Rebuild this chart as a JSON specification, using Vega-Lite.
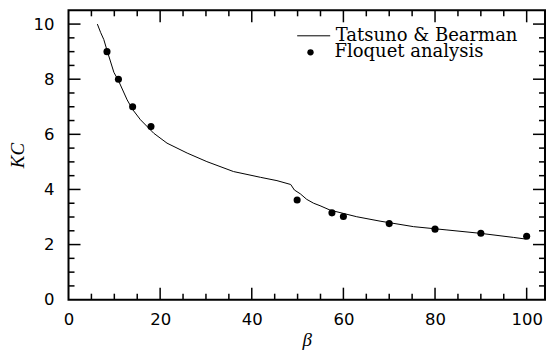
{
  "$schema": "https://vega.github.io/schema/vega-lite/v6.json",
  "width": 476.5,
  "height": 289.4,
  "autosize": {"type": "none"},
  "padding": {"left": 68.5, "top": 10.3, "right": 1.5, "bottom": 50.7},
  "background": "white",
  "config": {
    "view": {"stroke": "black", "strokeWidth": 2},
    "axis": {
      "domain": false, "ticks": false, "tickSize": 0,
      "grid": false, "labelFont": "DejaVu Sans", "labelFontSize": 16.5, "labelColor": "black",
      "labelFlush": false, "labelOverlap": false,
      "titleFont": "Liberation Serif", "titleFontStyle": "italic", "titleFontWeight": "normal",
      "titleFontSize": 19, "titleColor": "black"
    },
    "legend": {"labelFont": "DejaVu Serif", "labelFontSize": 18, "labelColor": "black", "padding": 0, "labelLimit": 400}
  },
  "datasets": {
    "curve": [
      {"beta": 6.3, "kc": 10.0, "series": "Tatsuno & Bearman"},
      {"beta": 7.0, "kc": 9.7, "series": "Tatsuno & Bearman"},
      {"beta": 7.7, "kc": 9.44, "series": "Tatsuno & Bearman"},
      {"beta": 8.4, "kc": 9.05, "series": "Tatsuno & Bearman"},
      {"beta": 9.9, "kc": 8.25, "series": "Tatsuno & Bearman"},
      {"beta": 10.9, "kc": 7.95, "series": "Tatsuno & Bearman"},
      {"beta": 12.8, "kc": 7.25, "series": "Tatsuno & Bearman"},
      {"beta": 14.0, "kc": 6.9, "series": "Tatsuno & Bearman"},
      {"beta": 15.7, "kc": 6.53, "series": "Tatsuno & Bearman"},
      {"beta": 18.6, "kc": 6.04, "series": "Tatsuno & Bearman"},
      {"beta": 21.5, "kc": 5.68, "series": "Tatsuno & Bearman"},
      {"beta": 25.9, "kc": 5.32, "series": "Tatsuno & Bearman"},
      {"beta": 30.2, "kc": 5.01, "series": "Tatsuno & Bearman"},
      {"beta": 36.0, "kc": 4.65, "series": "Tatsuno & Bearman"},
      {"beta": 41.9, "kc": 4.44, "series": "Tatsuno & Bearman"},
      {"beta": 45.5, "kc": 4.32, "series": "Tatsuno & Bearman"},
      {"beta": 48.5, "kc": 4.18, "series": "Tatsuno & Bearman"},
      {"beta": 49.3, "kc": 3.98, "series": "Tatsuno & Bearman"},
      {"beta": 50.6, "kc": 3.84, "series": "Tatsuno & Bearman"},
      {"beta": 52.0, "kc": 3.64, "series": "Tatsuno & Bearman"},
      {"beta": 53.5, "kc": 3.5, "series": "Tatsuno & Bearman"},
      {"beta": 54.9, "kc": 3.41, "series": "Tatsuno & Bearman"},
      {"beta": 57.1, "kc": 3.25, "series": "Tatsuno & Bearman"},
      {"beta": 62.9, "kc": 3.01, "series": "Tatsuno & Bearman"},
      {"beta": 68.0, "kc": 2.85, "series": "Tatsuno & Bearman"},
      {"beta": 75.3, "kc": 2.65, "series": "Tatsuno & Bearman"},
      {"beta": 82.6, "kc": 2.53, "series": "Tatsuno & Bearman"},
      {"beta": 89.8, "kc": 2.41, "series": "Tatsuno & Bearman"},
      {"beta": 97.1, "kc": 2.26, "series": "Tatsuno & Bearman"},
      {"beta": 99.8, "kc": 2.2, "series": "Tatsuno & Bearman"}
    ],
    "floquet": [
      {"beta": 8.4, "kc": 9.0, "series": "Floquet analysis"},
      {"beta": 10.9, "kc": 8.0, "series": "Floquet analysis"},
      {"beta": 14.0, "kc": 7.0, "series": "Floquet analysis"},
      {"beta": 18.0, "kc": 6.28, "series": "Floquet analysis"},
      {"beta": 49.9, "kc": 3.62, "series": "Floquet analysis"},
      {"beta": 57.5, "kc": 3.15, "series": "Floquet analysis"},
      {"beta": 60.0, "kc": 3.02, "series": "Floquet analysis"},
      {"beta": 70.0, "kc": 2.76, "series": "Floquet analysis"},
      {"beta": 80.0, "kc": 2.56, "series": "Floquet analysis"},
      {"beta": 90.0, "kc": 2.41, "series": "Floquet analysis"},
      {"beta": 100.0, "kc": 2.3, "series": "Floquet analysis"}
    ],
    "xticks": [
      {"v": 5, "kind": "minor"}, {"v": 10, "kind": "minor"}, {"v": 15, "kind": "minor"}, {"v": 20, "kind": "major"},
      {"v": 25, "kind": "minor"}, {"v": 30, "kind": "minor"}, {"v": 35, "kind": "minor"}, {"v": 40, "kind": "major"},
      {"v": 45, "kind": "minor"}, {"v": 50, "kind": "minor"}, {"v": 55, "kind": "minor"}, {"v": 60, "kind": "major"},
      {"v": 65, "kind": "minor"}, {"v": 70, "kind": "minor"}, {"v": 75, "kind": "minor"}, {"v": 80, "kind": "major"},
      {"v": 85, "kind": "minor"}, {"v": 90, "kind": "minor"}, {"v": 95, "kind": "minor"}, {"v": 100, "kind": "major"}
    ],
    "yticks": [
      {"v": 0.5, "kind": "minor"}, {"v": 1, "kind": "minor"}, {"v": 1.5, "kind": "minor"}, {"v": 2, "kind": "major"},
      {"v": 2.5, "kind": "minor"}, {"v": 3, "kind": "minor"}, {"v": 3.5, "kind": "minor"}, {"v": 4, "kind": "major"},
      {"v": 4.5, "kind": "minor"}, {"v": 5, "kind": "minor"}, {"v": 5.5, "kind": "minor"}, {"v": 6, "kind": "major"},
      {"v": 6.5, "kind": "minor"}, {"v": 7, "kind": "minor"}, {"v": 7.5, "kind": "minor"}, {"v": 8, "kind": "major"},
      {"v": 8.5, "kind": "minor"}, {"v": 9, "kind": "minor"}, {"v": 9.5, "kind": "minor"}, {"v": 10, "kind": "major"}
    ]
  },
  "layer": [
    {
      "data": {"name": "curve"},
      "mark": {"type": "line", "color": "black", "strokeWidth": 1, "clip": true},
      "encoding": {
        "x": {"field": "beta", "type": "quantitative", "title": "β", "scale": {"domain": [0, 104], "nice": false, "zero": false},
          "axis": {"orient": "bottom", "values": [0, 20, 40, 60, 80, 100], "labelPadding": 12, "titlePadding": 2}},
        "y": {"field": "kc", "type": "quantitative", "title": "KC", "scale": {"domain": [0, 10.5], "nice": false, "zero": false},
          "axis": {"orient": "left", "values": [0, 2, 4, 6, 8, 10], "labelPadding": 14.5, "titlePadding": 6}},
        "color": {"field": "series", "type": "nominal", "scale": {"domain": ["Tatsuno & Bearman"], "range": ["black"]},
          "legend": {"orient": "none", "legendX": 228.2, "legendY": 8.5, "title": null, "symbolType": "stroke", "symbolSize": 1089, "symbolStrokeWidth": 1, "symbolStrokeColor": "black", "labelOffset": 5}}
      }
    },
    {
      "data": {"name": "floquet"},
      "mark": {"type": "point", "filled": true, "color": "black", "size": 50, "opacity": 1},
      "encoding": {
        "x": {"field": "beta", "type": "quantitative", "title": "β"},
        "y": {"field": "kc", "type": "quantitative", "title": "KC"},
        "shape": {"field": "series", "type": "nominal", "scale": {"domain": ["Floquet analysis"], "range": ["circle"]},
          "legend": {"orient": "none", "legendX": 233, "legendY": 33, "title": null, "symbolSize": 40, "symbolFillColor": "black", "symbolStrokeColor": "black", "symbolStrokeWidth": 0, "labelOffset": 15}}
      }
    },
    {
      "data": {"name": "xticks"},
      "transform": [{"filter": "datum.kind === 'major'"}],
      "mark": {"type": "rule", "color": "black", "strokeWidth": 1.5, "y2Offset": -12},
      "encoding": {"x": {"field": "v", "type": "quantitative", "title": "β"}, "y": {"datum": 0, "type": "quantitative"}, "y2": {"datum": 0}}
    },
    {
      "data": {"name": "xticks"},
      "transform": [{"filter": "datum.kind === 'major'"}],
      "mark": {"type": "rule", "color": "black", "strokeWidth": 1.5, "y2Offset": 12},
      "encoding": {"x": {"field": "v", "type": "quantitative", "title": "β"}, "y": {"datum": 10.5, "type": "quantitative"}, "y2": {"datum": 10.5}}
    },
    {
      "data": {"name": "xticks"},
      "transform": [{"filter": "datum.kind === 'minor'"}],
      "mark": {"type": "rule", "color": "black", "strokeWidth": 1.5, "y2Offset": -6},
      "encoding": {"x": {"field": "v", "type": "quantitative", "title": "β"}, "y": {"datum": 0, "type": "quantitative"}, "y2": {"datum": 0}}
    },
    {
      "data": {"name": "xticks"},
      "transform": [{"filter": "datum.kind === 'minor'"}],
      "mark": {"type": "rule", "color": "black", "strokeWidth": 1.5, "y2Offset": 6},
      "encoding": {"x": {"field": "v", "type": "quantitative", "title": "β"}, "y": {"datum": 10.5, "type": "quantitative"}, "y2": {"datum": 10.5}}
    },
    {
      "data": {"name": "yticks"},
      "transform": [{"filter": "datum.kind === 'major'"}],
      "mark": {"type": "rule", "color": "black", "strokeWidth": 1.5, "x2Offset": 12},
      "encoding": {"y": {"field": "v", "type": "quantitative", "title": "KC"}, "x": {"datum": 0, "type": "quantitative"}, "x2": {"datum": 0}}
    },
    {
      "data": {"name": "yticks"},
      "transform": [{"filter": "datum.kind === 'major'"}],
      "mark": {"type": "rule", "color": "black", "strokeWidth": 1.5, "x2Offset": -12},
      "encoding": {"y": {"field": "v", "type": "quantitative", "title": "KC"}, "x": {"datum": 104, "type": "quantitative"}, "x2": {"datum": 104}}
    },
    {
      "data": {"name": "yticks"},
      "transform": [{"filter": "datum.kind === 'minor'"}],
      "mark": {"type": "rule", "color": "black", "strokeWidth": 1.5, "x2Offset": 6},
      "encoding": {"y": {"field": "v", "type": "quantitative", "title": "KC"}, "x": {"datum": 0, "type": "quantitative"}, "x2": {"datum": 0}}
    },
    {
      "data": {"name": "yticks"},
      "transform": [{"filter": "datum.kind === 'minor'"}],
      "mark": {"type": "rule", "color": "black", "strokeWidth": 1.5, "x2Offset": -6},
      "encoding": {"y": {"field": "v", "type": "quantitative", "title": "KC"}, "x": {"datum": 104, "type": "quantitative"}, "x2": {"datum": 104}}
    }
  ],
  "resolve": {"legend": {"color": "independent", "shape": "independent"}}
}
